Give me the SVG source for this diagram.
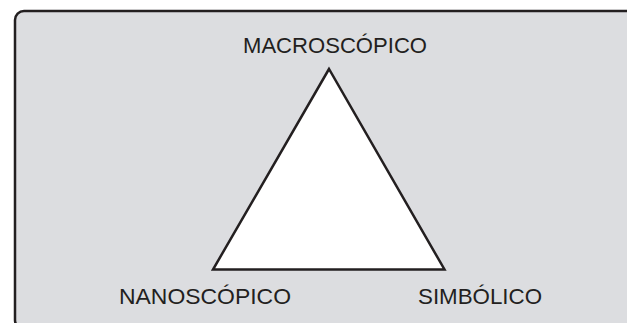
<svg xmlns="http://www.w3.org/2000/svg" width="627" height="323" viewBox="0 0 627 323">
<style>
.lbl{font-family:"Liberation Sans","DejaVu Sans",sans-serif;font-size:22.5px;fill:#231f20;text-anchor:middle}
</style>
<rect width="627" height="323" fill="#ffffff"/>
<g id="panel">
<rect x="15" y="11" width="640" height="318" rx="9" ry="9" fill="#dcdde0" stroke="#231f20" stroke-width="2.5"/>
</g>
<g id="triangle">
<polygon points="329,69 213,269.5 444.5,269.5" fill="#ffffff" stroke="#231f20" stroke-width="2.5" stroke-linejoin="miter"/>
</g>
<g id="macro"><text class="lbl" x="335" y="53" textLength="184" lengthAdjust="spacingAndGlyphs">MACROSCÓPICO</text></g>
<g id="nano"><text class="lbl" x="205" y="304" textLength="172" lengthAdjust="spacingAndGlyphs">NANOSCÓPICO</text></g>
<g id="simb"><text class="lbl" x="480" y="304" textLength="124" lengthAdjust="spacingAndGlyphs">SIMBÓLICO</text></g>
<g id="connectors"></g>
</svg>
